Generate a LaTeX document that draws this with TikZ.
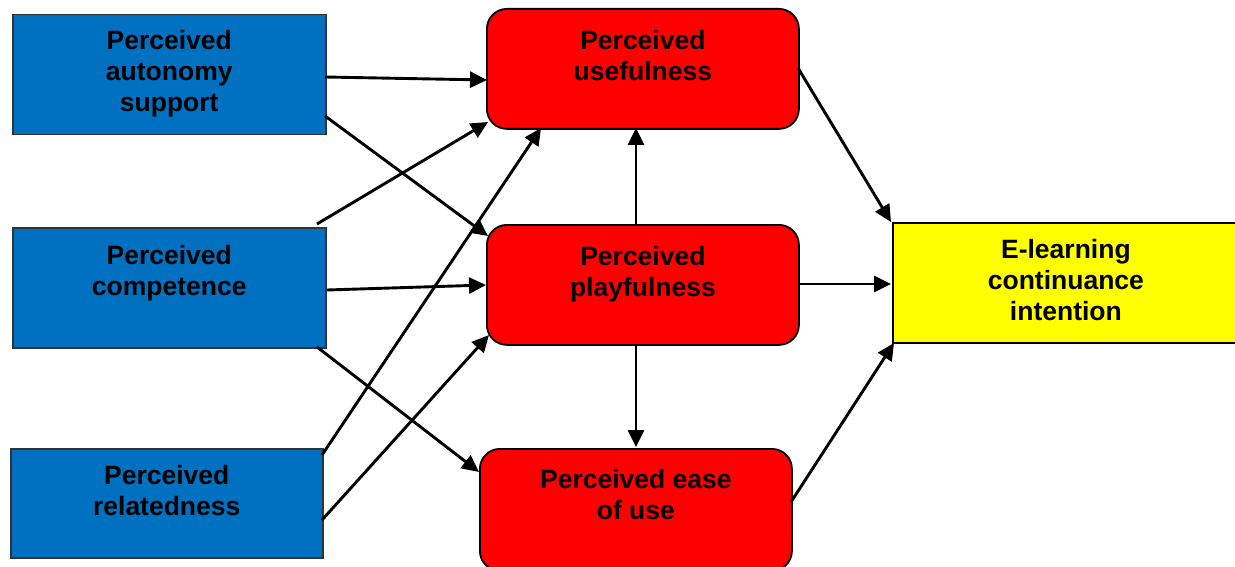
\documentclass[tikz,border=0pt]{standalone}
\usepackage{fontspec}
\setmainfont{Liberation Sans}
\usetikzlibrary{arrows.meta}
\definecolor{boxblue}{HTML}{0070C0}
\definecolor{boxred}{HTML}{FF0000}
\definecolor{boxyellow}{HTML}{FFFF00}
\tikzset{
  bluebox/.style={draw=black!80, line width=1.5pt, fill=boxblue, minimum width=313pt, minimum height=120pt, anchor=north west, inner sep=0},
  redbox/.style={draw=black, line width=1.8pt, fill=boxred, rounded corners=20pt, minimum width=312pt, minimum height=120pt, anchor=north west, inner sep=0},
  yellowbox/.style={draw=black, line width=1.8pt, fill=boxyellow, minimum width=346pt, minimum height=120pt, anchor=north west, inner sep=0},
  lbl/.style={font=\fontsize{26.5}{31}\selectfont\bfseries, align=center, anchor=north, inner sep=0},
  arr/.style={line width=2.9pt, -{Triangle[length=17pt,width=16pt]}}
}
\begin{document}
\begin{tikzpicture}[x=1pt,y=-1pt]
\useasboundingbox (0,0) rectangle (1235,567);
% boxes
\node[bluebox] (aut) at (12,14) {};
\node[bluebox] (com) at (12,227) {};
\node[bluebox, minimum height=109pt, minimum width=312pt] (rel) at (10,448) {};
\node[redbox] (use) at (486,8) {};
\node[redbox] (pla) at (486,224) {};
\node[redbox, minimum height=122pt] (eas) at (479,448) {};
\node[yellowbox] (eli) at (892,222) {};
% labels
\node[lbl] (autT) at ([yshift=-16pt]aut.north) {Perceived\\autonomy\\support};
\node[lbl] (comT) at ([yshift=-18pt]com.north) {Perceived\\competence};
\node[lbl] (relT) at ([yshift=-17pt]rel.north) {Perceived\\relatedness};
\node[lbl] (useT) at ([yshift=-22pt]use.north) {Perceived\\usefulness};
\node[lbl] (plaT) at ([yshift=-22pt]pla.north) {Perceived\\playfulness};
\node[lbl] (easT) at ([yshift=-21pt]eas.north) {Perceived ease\\of use};
\node[lbl] (eliT) at ([yshift=-17pt]eli.north) {E-learning\\continuance\\intention};
% connector end points
\coordinate (a1) at (325,77);
\coordinate (a2) at (325,116);
\coordinate (c1) at (317,224);
\coordinate (c2) at (327,290);
\coordinate (c3) at (317,347);
\coordinate (r1) at (322,455);
\coordinate (r2) at (322,520);
\coordinate (u1) at (487,80);
\coordinate (u2) at (488,122);
\coordinate (u3) at (541,128);
\coordinate (u4) at (636,128);
\coordinate (u5) at (798,68);
\coordinate (p1) at (488,236);
\coordinate (p2) at (486,285);
\coordinate (p3) at (489,335);
\coordinate (p4) at (636,224);
\coordinate (p5) at (636,344);
\coordinate (p6) at (798,284);
\coordinate (e1) at (479,472);
\coordinate (e2) at (636,447);
\coordinate (e3) at (791,502);
\coordinate (y1) at (891,222);
\coordinate (y2) at (891,284);
\coordinate (y3) at (894,343);
% connectors
\draw[arr] (a1) -- (u1);
\draw[arr] (a2) -- (p1);
\draw[arr] (c1) -- (u2);
\draw[arr] (c2) -- (p2);
\draw[arr] (c3) -- (e1);
\draw[arr] (r1) -- (u3);
\draw[arr] (r2) -- (p3);
\draw[arr] (p4) -- (u4);
\draw[arr] (p5) -- (e2);
\draw[arr] (u5) -- (y1);
\draw[arr] (p6) -- (y2);
\draw[arr] (e3) -- (y3);
\end{tikzpicture}
\end{document}
